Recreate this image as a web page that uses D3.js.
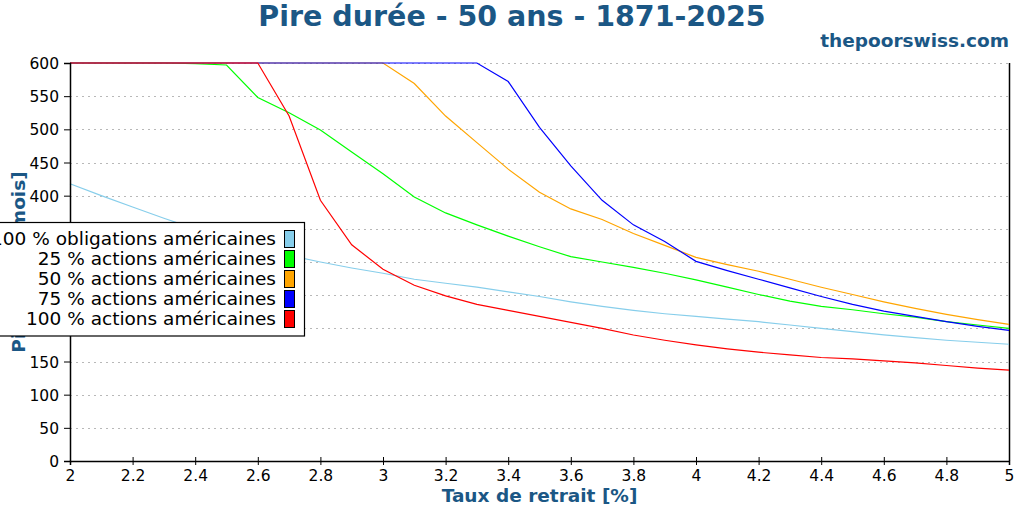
<!DOCTYPE html>
<html>
<head>
<meta charset="utf-8">
<script src="https://cdn.jsdelivr.net/npm/d3@7"></script>
<style>
    body { margin: 0; background: #fff; }
    svg { display: block; font-family: "DejaVu Sans", sans-serif; }
</style>
</head>
<body>
<div id="chart"></div>
<script>
(function () {
    'use strict';

    // taux de retrait [%]
    var rates = [2.0, 2.1, 2.2, 2.3, 2.4, 2.5, 2.6, 2.7, 2.8, 2.9,
                 3.0, 3.1, 3.2, 3.3, 3.4, 3.5, 3.6, 3.7, 3.8, 3.9,
                 4.0, 4.1, 4.2, 4.3, 4.4, 4.5, 4.6, 4.7, 4.8, 4.9, 5.0];

    // pire durée [mois] par allocation
    var bonds100 = [418, 400, 383, 366, 350, 336, 322, 310, 300, 291,
                    283, 274, 268, 262, 255, 248, 240, 233, 227, 222,
                    218, 214, 210, 205, 200, 195, 190, 186, 182, 179, 176];
    var stocks25 = [600, 600, 600, 600, 599, 597, 548, 525, 499, 466,
                    433, 398, 374, 356, 339, 323, 308, 300, 292, 283,
                    273, 262, 251, 241, 233, 228, 222, 217, 210, 205, 200];
    var stocks50 = [600, 600, 600, 600, 600, 600, 600, 600, 600, 600,
                    600, 569, 520, 480, 440, 405, 380, 364, 343, 325,
                    307, 296, 286, 274, 262, 251, 240, 230, 221, 213, 206];
    var stocks75 = [600, 600, 600, 600, 600, 600, 600, 600, 600, 600,
                    600, 600, 600, 600, 572, 503, 445, 393, 356, 331,
                    301, 287, 274, 261, 248, 236, 226, 218, 210, 203, 197];
    var stocks100 = [600, 600, 600, 600, 600, 600, 600, 520, 393, 326,
                     289, 265, 249, 236, 227, 218, 209, 200, 190, 182,
                     175, 169, 164, 160, 156, 154, 151, 148, 144, 140, 137];

    var seriesNames = ['100 % obligations américaines', '25 % actions américaines',
                       '50 % actions américaines', '75 % actions américaines',
                       '100 % actions américaines'];
    var seriesValues = [bonds100, stocks25, stocks50, stocks75, stocks100];
    var seriesColors = ['#87ceeb', '#00ff00', '#ffa500', '#0000ff', '#ff0000'];

    var xTicks = [2, 2.2, 2.4, 2.6, 2.8, 3, 3.2, 3.4, 3.6, 3.8, 4, 4.2, 4.4, 4.6, 4.8, 5];
    var yTicks = [0, 50, 100, 150, 200, 250, 300, 350, 400, 450, 500, 550, 600];

    var titleColor = '#1b5785';
    var width = 1024, height = 512;
    var margin = { top: 63, right: 15, bottom: 51, left: 70 };
    var w = width - margin.left - margin.right;
    var h = height - margin.top - margin.bottom;

    var svg = d3.select('#chart').append('svg')
        .attr('width', width)
        .attr('height', height);

    var x = d3.scaleLinear().domain([2, 5]).range([0, w]);
    var y = d3.scaleLinear().domain([0, 600]).range([h, 0]);

    var g = svg.append('g')
        .attr('transform', 'translate(' + margin.left + ',' + margin.top + ')');

    // horizontal grid
    g.append('g')
        .selectAll('line')
        .data(yTicks.filter(function (d) { return d > 0; }))
        .enter().append('line')
        .attr('x1', 0).attr('x2', w)
        .attr('y1', function (d) { return Math.round(y(d)) + 0.5; })
        .attr('y2', function (d) { return Math.round(y(d)) + 0.5; })
        .attr('stroke', '#b8b8b8')
        .attr('stroke-dasharray', '2,4');

    // right spine
    g.append('line')
        .attr('x1', w + 0.5).attr('x2', w + 0.5)
        .attr('y1', 0).attr('y2', h)
        .attr('stroke', '#000')
        .attr('stroke-width', 1.5);

    // series lines
    var line = d3.line()
        .x(function (d, i) { return x(rates[i]); })
        .y(function (d) { return y(d); });

    g.selectAll('.series')
        .data(seriesValues)
        .enter().append('path')
        .attr('class', 'series')
        .attr('d', line)
        .attr('fill', 'none')
        .attr('stroke', function (d, i) { return seriesColors[i]; })
        .attr('stroke-width', 1.2);

    // axes
    var xAxis = g.append('g')
        .attr('transform', 'translate(0,' + h + ')')
        .call(d3.axisBottom(x).tickValues(xTicks).tickSize(4).tickPadding(5)
            .tickFormat(d3.format('~g')));
    xAxis.selectAll('.tick line').attr('y1', -4);
    xAxis.select('.domain').attr('stroke-width', 1.5);

    var yAxis = g.append('g')
        .call(d3.axisLeft(y).tickValues(yTicks).tickSize(6).tickPadding(5));
    yAxis.select('.domain').attr('stroke-width', 1.5);

    svg.selectAll('.tick text')
        .style('font-family', '"DejaVu Sans", sans-serif')
        .style('font-size', '15.5px')
        .style('fill', '#000');
    yAxis.selectAll('.tick text').attr('dy', '0.36em');

    // titles
    svg.append('text')
        .attr('x', 512).attr('y', 26)
        .attr('text-anchor', 'middle')
        .style('font-size', '28.5px')
        .style('font-weight', 'bold')
        .style('fill', titleColor)
        .text('Pire durée - 50 ans - 1871-2025');

    svg.append('text')
        .attr('x', 1009).attr('y', 47)
        .attr('text-anchor', 'end')
        .style('font-size', '18.5px')
        .style('font-weight', 'bold')
        .style('fill', titleColor)
        .text('thepoorswiss.com');

    svg.append('text')
        .attr('x', margin.left + w / 2).attr('y', 502)
        .attr('text-anchor', 'middle')
        .style('font-size', '18.5px')
        .style('font-weight', 'bold')
        .style('fill', titleColor)
        .text('Taux de retrait [%]');

    svg.append('text')
        .attr('transform', 'translate(25,' + (margin.top + h / 2) + ') rotate(-90)')
        .attr('text-anchor', 'middle')
        .style('font-size', '18.5px')
        .style('font-weight', 'bold')
        .style('fill', titleColor)
        .text('Pire durée [mois]');

    // legend
    var legendRight = 304, legendTop = 222.5, rowHeight = 20;
    svg.append('rect')
        .attr('x', -10).attr('y', legendTop)
        .attr('width', legendRight + 10.5).attr('height', 113.5)
        .attr('fill', '#fff')
        .attr('stroke', '#000')
        .attr('stroke-width', 1.2);

    var legend = svg.selectAll('.legend')
        .data(seriesNames)
        .enter().append('g')
        .attr('class', 'legend')
        .attr('transform', function (d, i) {
            return 'translate(0,' + (245 + i * rowHeight) + ')';
        });
    legend.append('text')
        .attr('x', 276)
        .attr('text-anchor', 'end')
        .style('font-size', '18.5px')
        .style('fill', '#000')
        .text(function (d) { return d; });
    legend.append('rect')
        .attr('x', 284.5).attr('y', -14.5)
        .attr('width', 10).attr('height', 17)
        .attr('fill', function (d, i) { return seriesColors[i]; })
        .attr('stroke', '#000');
})();
</script>
</body>
</html>
